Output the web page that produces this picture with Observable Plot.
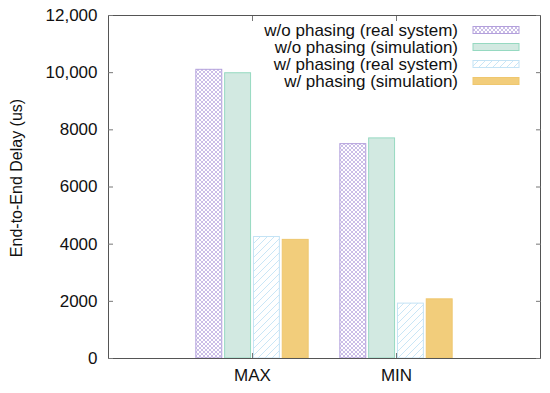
<!DOCTYPE html>
<html><head><meta charset="utf-8">
<script src="https://cdn.jsdelivr.net/npm/d3@7"></script>
<script src="https://cdn.jsdelivr.net/npm/@observablehq/plot@0.6"></script>
<style>body{margin:0;background:#fff} #chart{width:550px;height:393px}</style>
</head><body><div id="chart"></div>
<script>
// ---- data ----
const categories = ["MAX", "MIN"];
const seriesNames = [
  "w/o phasing (real system)",
  "w/o phasing (simulation)",
  "w/ phasing (real system)",
  "w/ phasing (simulation)"
];
const woPhasingReal = [10100, 7500];
const woPhasingSim  = [9980, 7700];
const wPhasingReal  = [4250, 1920];
const wPhasingSim   = [4150, 2070];
const yTicks = [0, 2000, 4000, 6000, 8000, 10000, 12000];
const yLabel = "End-to-End Delay (us)";

// ---- styles ----
const fills   = ["url(#xhatch)", "#d2e9e1", "url(#dhatch)", "#f2cd7b"];
const strokes = ["#b3a0dc", "#96d9c1", "#c4e3f5", "#efc76e"];
const FONT = "'Liberation Sans', Arial, Helvetica, sans-serif";

const seriesValues = [woPhasingReal, woPhasingSim, wPhasingReal, wPhasingSim];
const rows = [];
seriesValues.forEach((vals, si) => vals.forEach((v, ci) =>
  rows.push({category: categories[ci], ci, series: seriesNames[si], si, value: v})));

const step = 0.2, barW = 0.18;
const x1 = d => d.ci + 1 + (d.si - 2) * step + (step - barW) / 2;
const x2 = d => x1(d) + barW;
const fmt = d => d >= 10000 ? d3.format(",")(d) : String(d);
const xTicks = categories.map((c, i) => i + 1);

const svg = Plot.plot({
  width: 550, height: 393,
  marginLeft: 108, marginRight: 10, marginTop: 15, marginBottom: 35,
  style: {fontFamily: FONT, fontSize: "17px", color: "#111", background: "#fff"},
  x: {domain: [0, categories.length + 1]},
  y: {domain: [0, 12000]},
  marks: [
    ...seriesNames.map((s, si) => Plot.rect(rows.filter(r => r.si === si), {
      x1, x2, y1: 0, y2: "value", fill: fills[si], stroke: strokes[si], strokeWidth: 1
    })),
    Plot.frame({stroke: "#555", strokeWidth: 1}),
    Plot.axisY({ticks: yTicks, tickFormat: fmt, tickSize: 0, tickPadding: 11, label: null, fontSize: 17}),
    Plot.axisY({anchor: "left", ticks: yTicks, text: null, tickSize: 5, dx: 5, label: null, stroke: "#777"}),
    Plot.axisY({anchor: "right", ticks: yTicks, text: null, tickSize: 5, dx: -5, label: null, stroke: "#777"}),
    Plot.axisX({ticks: xTicks, tickFormat: i => categories[i - 1], tickSize: 0, tickPadding: 10, label: null, fontSize: 17}),
    Plot.axisX({anchor: "bottom", ticks: xTicks, text: null, tickSize: 5, dy: -5, label: null, stroke: "#777"}),
    Plot.axisX({anchor: "top", ticks: xTicks, text: null, tickSize: 5, dy: 5, label: null, stroke: "#777"}),
    Plot.text([yLabel], {frameAnchor: "left", textAnchor: "middle", rotate: -90, dx: -92, dy: -9, fontSize: 16, fill: "#111"})
  ]
});

// patterns
const s = d3.select(svg);
const defs = s.insert("defs", ":first-child");
const px = defs.append("pattern").attr("id", "xhatch").attr("patternUnits", "userSpaceOnUse")
  .attr("width", 4).attr("height", 4);
px.append("rect").attr("width", 4).attr("height", 4).attr("fill", "#fff");
px.append("path").attr("d", "M0,0L4,4M4,0L0,4M-1,1L1,-1M3,5L5,3M-1,3L1,5M3,-1L5,1")
  .attr("stroke", "#a892d6").attr("stroke-width", 0.6).attr("fill", "none");
const pd = defs.append("pattern").attr("id", "dhatch").attr("patternUnits", "userSpaceOnUse")
  .attr("width", 7).attr("height", 7);
pd.append("rect").attr("width", 7).attr("height", 7).attr("fill", "#fff");
pd.append("path").attr("d", "M0,7L7,0M-1,1L1,-1M6,8L8,6")
  .attr("stroke", "#c4e3f5").attr("stroke-width", 0.9).attr("fill", "none");

// legend inside the plot (top-right)
const lg = s.append("g").attr("font-family", FONT).attr("font-size", 17);
seriesNames.forEach((name, i) => {
  const cy = 30 + i * 17;
  lg.append("text").attr("x", 458).attr("y", cy).attr("dy", "0.35em")
    .attr("text-anchor", "end").attr("fill", "#111").text(name);
  lg.append("rect").attr("x", 473).attr("y", cy - 3.5).attr("width", 46).attr("height", 7)
    .attr("fill", fills[i]).attr("stroke", strokes[i]).attr("stroke-width", 1);
});

document.getElementById("chart").appendChild(svg);
</script>
</body></html>
